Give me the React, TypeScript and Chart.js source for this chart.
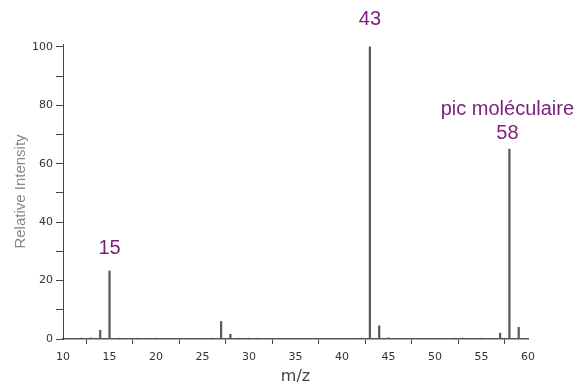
import React, { useEffect, useRef } from "react";
import { Chart, registerables } from "chart.js";

Chart.register(...registerables);

// m/z values and relative intensities
const mzValues = [12, 13, 14, 15, 16, 18, 19, 20, 21, 22, 24, 25, 26, 27, 28, 29, 30, 31, 32, 40, 41, 42, 43, 44, 45, 52, 53, 55, 57, 58, 59];
const intensities = [0.3, 0.4, 3, 23.3, 0.3, 0.3, 0.3, 0.3, 0.2, 0.2, 0.2, 0.2, 0.3, 6, 1.6, 0.3, 0.3, 0.3, 0.2, 0.2, 0.2, 0.3, 100, 4.5, 0.4, 0.3, 0.3, 0.3, 2, 65, 4];

const annotationX = [15, 43, 58];
const annotationY = [23.3, 100, 65];
const annotationLines = [["15"], ["43"], ["pic moléculaire", "58"]];

const yTickValues = [0, 20, 40, 60, 80, 100];

const labelGap = [17, 22, 10];
const labelShift = [0, 0, -2];

const labelPlugin = {
  id: "peakLabels",
  afterDatasetsDraw(chart: any) {
    const { ctx, scales } = chart;
    const xs = scales.x;
    const ys = scales.y;
    ctx.save();
    ctx.fillStyle = "#7a1f7a";
    ctx.font = "20px 'Liberation Sans', Arial, sans-serif";
    ctx.textAlign = "center";
    ctx.textBaseline = "alphabetic";
    annotationX.forEach((xv, i) => {
      const px = xs.getPixelForValue(xv);
      const py = ys.getPixelForValue(annotationY[i]);
      const lines = annotationLines[i];
      const lineH = 24;
      lines.forEach((t, j) => {
        const k = lines.length - 1 - j;
        ctx.fillText(t, px + labelShift[i], py - labelGap[i] - k * lineH);
      });
    });
    ctx.restore();
  },
};

export default function App() {
  const ref = useRef<HTMLCanvasElement>(null);
  useEffect(() => {
    if (!ref.current) return;
    const data = mzValues.map((x, i) => ({ x, y: intensities[i] }));
    const chart = new Chart(ref.current, {
      type: "bar",
      data: {
        datasets: [
          {
            data,
            backgroundColor: "#5a5a5a",
            borderWidth: 0,
            barThickness: 1.6,
          } as any,
        ],
      },
      options: {
        animation: false,
        responsive: false,
        devicePixelRatio: 1,
        layout: { padding: { top: 44, right: 52, bottom: 0, left: 0 } },
        plugins: { legend: { display: false }, tooltip: { enabled: false } },
        scales: {
          x: {
            type: "linear",
            min: 10,
            max: 60,
            offset: false,
            ticks: {
              stepSize: 5,
              color: "#333",
              font: { family: "'DejaVu Sans', sans-serif", size: 11 },
              padding: 7,
              maxRotation: 0,
            },
            grid: { drawOnChartArea: false, drawTicks: true, tickLength: 5, color: "#444" },
            border: { display: true, color: "#555", width: 1.5 },
            title: {
              display: true,
              text: "m/z",
              color: "#444",
              font: { family: "'DejaVu Sans', sans-serif", size: 16 },
              padding: { top: 0, bottom: 1 },
            },
            afterFit(scale: any) {
              scale.height = 48;
            },
          },
          y: {
            type: "linear",
            min: 0,
            max: 101,
            ticks: {
              stepSize: 10,
              includeBounds: false,
              color: "#333",
              font: { family: "'DejaVu Sans', sans-serif", size: 11 },
              padding: 3,
              callback: (v: any) => (yTickValues.includes(Number(v)) ? String(v) : ""),
            },
            grid: { drawOnChartArea: false, drawTicks: true, tickLength: 7, color: "#444" },
            border: { display: true, color: "#444", width: 1 },
            title: {
              display: true,
              text: "Relative Intensity",
              color: "#888",
              font: { family: "'Liberation Sans', Arial, sans-serif", size: 15 },
              padding: { top: 12, bottom: 0 },
            },
            afterFit(scale: any) {
              scale.width = 63;
            },
          },
        },
      },
      plugins: [labelPlugin],
    });
    return () => chart.destroy();
  }, []);
  return (
    <div style={{ position: "fixed", left: 0, top: 0, width: 580, height: 387, background: "#fff" }}>
      <canvas ref={ref} width={580} height={387} />
    </div>
  );
}
